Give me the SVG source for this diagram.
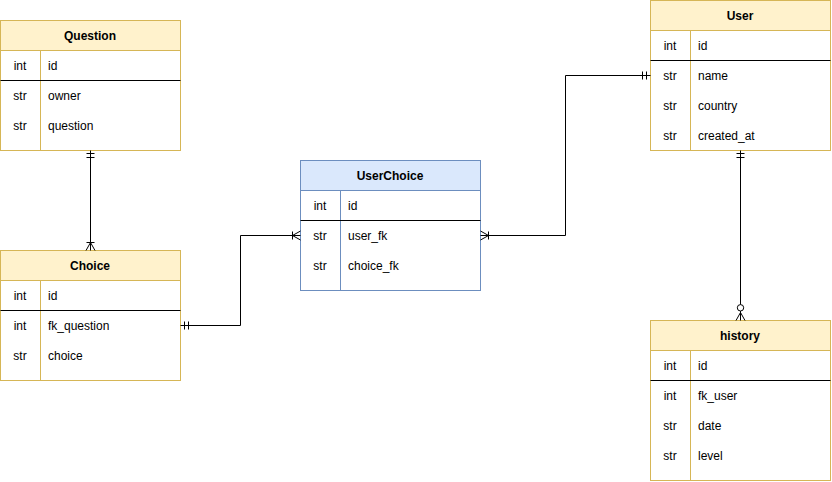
<svg xmlns="http://www.w3.org/2000/svg" width="832" height="482" viewBox="0 0 832 482">
<defs>
<style>
.y{fill:#fff2cc;stroke:#d6b656;stroke-width:1}
.yb{fill:#ffffff;stroke:#d6b656;stroke-width:1}
.b{fill:#dae8fc;stroke:#6c8ebf;stroke-width:1}
.bb{fill:#ffffff;stroke:#6c8ebf;stroke-width:1}
.sep{stroke:#000;stroke-width:1}
.h{font-family:"Liberation Sans",Arial,sans-serif;font-size:12px;font-weight:bold;fill:#000;text-anchor:middle}
.t{font-family:"Liberation Sans",Arial,sans-serif;font-size:12px;fill:#000;text-anchor:middle}
.n{font-family:"Liberation Sans",Arial,sans-serif;font-size:12px;fill:#000}
.c{fill:none;stroke:#000;stroke-width:1}
.m{fill:none;stroke:#000;stroke-width:1}
</style>
</defs>

<g id="Question">
<rect class="yb" x="0.5" y="20.5" width="180" height="130"/>
<rect class="y" x="0.5" y="20.5" width="180" height="30"/>
<line class="yb" x1="40.5" y1="50.5" x2="40.5" y2="150.5"/>
<line class="sep" x1="0.5" y1="80.5" x2="180.5" y2="80.5"/>
<text class="h" x="90" y="40">Question</text>
<text class="t" x="20" y="70">int</text><text class="n" x="48" y="70">id</text>
<text class="t" x="20" y="100">str</text><text class="n" x="48" y="100">owner</text>
<text class="t" x="20" y="130">str</text><text class="n" x="48" y="130">question</text>
</g>

<g id="Choice">
<rect class="yb" x="0.5" y="250.5" width="180" height="130"/>
<rect class="y" x="0.5" y="250.5" width="180" height="30"/>
<line class="yb" x1="40.5" y1="280.5" x2="40.5" y2="380.5"/>
<line class="sep" x1="0.5" y1="310.5" x2="180.5" y2="310.5"/>
<text class="h" x="90" y="270">Choice</text>
<text class="t" x="20" y="300">int</text><text class="n" x="48" y="300">id</text>
<text class="t" x="20" y="330">int</text><text class="n" x="48" y="330">fk_question</text>
<text class="t" x="20" y="360">str</text><text class="n" x="48" y="360">choice</text>
</g>

<g id="UserChoice">
<rect class="bb" x="300.5" y="160.5" width="180" height="130"/>
<rect class="b" x="300.5" y="160.5" width="180" height="30"/>
<line class="bb" x1="340.5" y1="190.5" x2="340.5" y2="290.5"/>
<line class="sep" x1="300.5" y1="220.5" x2="480.5" y2="220.5"/>
<text class="h" x="390" y="180">UserChoice</text>
<text class="t" x="320" y="210">int</text><text class="n" x="348" y="210">id</text>
<text class="t" x="320" y="240">str</text><text class="n" x="348" y="240">user_fk</text>
<text class="t" x="320" y="270">str</text><text class="n" x="348" y="270">choice_fk</text>
</g>

<g id="User">
<rect class="yb" x="650.5" y="0.5" width="180" height="150"/>
<rect class="y" x="650.5" y="0.5" width="180" height="30"/>
<line class="yb" x1="690.5" y1="30.5" x2="690.5" y2="150.5"/>
<line class="sep" x1="650.5" y1="60.5" x2="830.5" y2="60.5"/>
<text class="h" x="740" y="20">User</text>
<text class="t" x="670" y="50">int</text><text class="n" x="698" y="50">id</text>
<text class="t" x="670" y="80">str</text><text class="n" x="698" y="80">name</text>
<text class="t" x="670" y="110">str</text><text class="n" x="698" y="110">country</text>
<text class="t" x="670" y="140">str</text><text class="n" x="698" y="140">created_at</text>
</g>

<g id="history">
<rect class="yb" x="650.5" y="320.5" width="180" height="160"/>
<rect class="y" x="650.5" y="320.5" width="180" height="30"/>
<line class="yb" x1="690.5" y1="350.5" x2="690.5" y2="480.5"/>
<line class="sep" x1="650.5" y1="380.5" x2="830.5" y2="380.5"/>
<text class="h" x="740" y="340">history</text>
<text class="t" x="670" y="370">int</text><text class="n" x="698" y="370">id</text>
<text class="t" x="670" y="400">int</text><text class="n" x="698" y="400">fk_user</text>
<text class="t" x="670" y="430">str</text><text class="n" x="698" y="430">date</text>
<text class="t" x="670" y="460">str</text><text class="n" x="698" y="460">level</text>
</g>

<g id="connectors">
<!-- Question - Choice -->
<path class="c" d="M90.5 150.5 V250.5"/>
<path class="m" d="M86.5 153.5 H94.5 M86.5 157.5 H94.5"/>
<path class="m" d="M86 250.5 L90.5 242.5 L95 250.5 M86.5 242.5 H94.5"/>
<!-- Choice - UserChoice -->
<path class="c" d="M180.5 325.5 H240.5 V235.5 H300.5"/>
<path class="m" d="M184.5 321.5 V329.5 M188.5 321.5 V329.5"/>
<path class="m" d="M300.5 231 L292.5 235.5 L300.5 240 M292.5 231.5 V239.5"/>
<!-- UserChoice - User -->
<path class="c" d="M480.5 235.5 H565.5 V75.5 H650.5"/>
<path class="m" d="M480.5 231 L488.5 235.5 L480.5 240 M488.5 231.5 V239.5"/>
<path class="m" d="M642.5 71.5 V79.5 M646.5 71.5 V79.5"/>
<!-- User - history -->
<path class="c" d="M740.5 150.5 V304.5 M740.5 311 V320.5"/>
<path class="m" d="M736.5 153.5 H744.5 M736.5 157.5 H744.5"/>
<circle class="m" cx="740.5" cy="307.8" r="3.2"/>
<path class="m" d="M736 320.5 L740.5 312.5 L745 320.5"/>
</g>
</svg>
